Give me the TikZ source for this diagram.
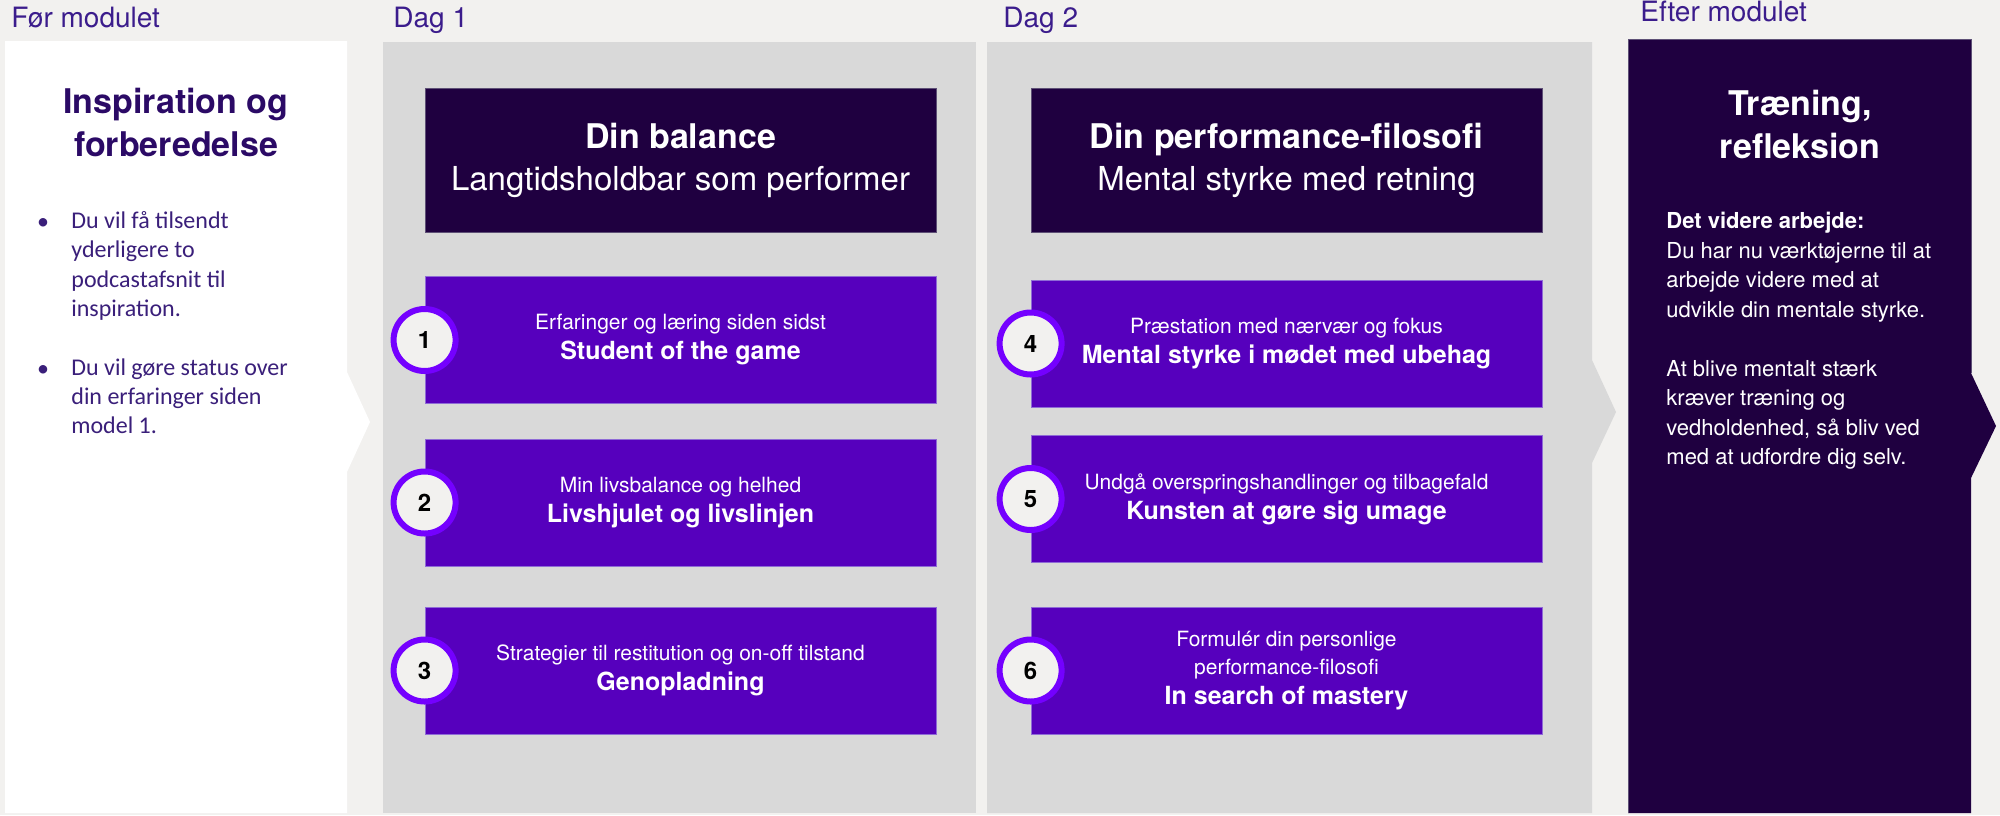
\documentclass[tikz,border=0pt]{standalone}
\usepackage{fontspec}
\setmainfont{TeX Gyre Heros}
\newfontfamily\bulletfont{Carlito}
\definecolor{paper}{HTML}{F2F1EF}
\definecolor{panelgray}{HTML}{D9D9D9}
\definecolor{nightviolet}{HTML}{1F0040}
\definecolor{nightedge}{HTML}{5E5076}
\definecolor{deepviolet}{HTML}{5600BD}
\definecolor{violetedge}{HTML}{8F6BD6}
\definecolor{ringviolet}{HTML}{7400FF}
\definecolor{labelink}{HTML}{3B1C8C}
\definecolor{titleink}{HTML}{2B0A66}
\definecolor{bulletink}{HTML}{3A1F7A}
\newcommand{\headlines}[2]{{\fontsize{17}{21}\selectfont\bfseries #1}\\{#2}}
\newcommand{\topiclines}[2]{#1\\{\fontsize{12.5}{15}\selectfont\bfseries #2}}

\begin{document}
\begin{tikzpicture}[x=0.5pt,y=-0.5pt,
  headbox/.style={fill=nightviolet,draw=nightedge,line width=0.4pt,inner sep=0pt,
    minimum width=255.5pt,minimum height=72pt,text=white,align=center,
    font=\fontsize{16.5}{21}\selectfont},
  topicbox/.style={fill=deepviolet,draw=violetedge,line width=0.4pt,inner sep=0pt,
    minimum width=255.5pt,minimum height=63.5pt,text=white,align=center,
    font=\fontsize{10.5}{15}\selectfont},
  stepdot/.style={circle,fill=paper,draw=ringviolet,line width=3pt,inner sep=0pt,
    minimum size=31pt,font=\fontsize{12}{12}\selectfont\bfseries},
  colhead/.style={anchor=base west,text=labelink,inner sep=0pt,
    font=\fontsize{14}{16}\selectfont},
  coltitle/.style={anchor=north,inner sep=0pt,align=center,
    font=\fontsize{17}{21.5}\selectfont\bfseries},
  bullettext/.style={anchor=north west,inner sep=0pt,align=left,text=bulletink,
    font=\bulletfont\fontsize{12}{14.7}\selectfont},
  bulletdot/.style={anchor=base,inner sep=0pt,text=bulletink,
    font=\bulletfont\fontsize{12}{14.7}\selectfont}]
\useasboundingbox (0,0) rectangle (2000,815);
\fill[paper] (0,0) rectangle (2000,815);
% Drawing panels
% Panel 1: before the module, white, pointing right
\fill[white] (5,41) -- (347,41) -- (347,372) -- (370,422) -- (347,472) -- (347,813) -- (5,813) -- cycle;
% Panel 2: day 1
\fill[panelgray] (383,42) rectangle (976,813);
% Panel 3: day 2, pointing right
\fill[panelgray] (987,42) -- (1592,42) -- (1592,360) -- (1616,412) -- (1592,463) -- (1592,813) -- (987,813) -- cycle;
% Panel 4: after the module, dark, pointing right
\fill[nightviolet] (1628,39) -- (1971,39) -- (1971,373) -- (1996,426) -- (1971,478) -- (1971,813) -- (1628,813) -- cycle;
\draw[nightedge,line width=0.4pt] (1628,813) -- (1628,39) -- (1971,39) -- (1971,373);
% Done with panels; drawing column labels
\node[colhead] (before) at (11,27) {Før modulet};
\node[colhead] (day1) at (393,27) {Dag 1};
\node[colhead] (day2) at (1003,27) {Dag 2};
\node[colhead] (after) at (1640,21) {Efter modulet};
% Column 1: preparation
\node[coltitle,text=titleink] (preptitle) at (176,88) {Inspiration og\\forberedelse};
\node[bulletdot] (dot1) at (43,229) {\textbullet};
\node[bullettext] (prep1) at (71,211) {Du vil få tilsendt\\yderligere to\\podcastafsnit til\\inspiration.};
\node[bulletdot] (dot2) at (43,376) {\textbullet};
\node[bullettext] (prep2) at (71,358) {Du vil gøre status over\\din erfaringer siden\\model 1.};
% Column 2: day 1
\node[headbox] (balance) at (680.5,160) {\headlines{Din balance}{Langtidsholdbar som performer}};
\node[topicbox] (t1) at (680.5,340) {\topiclines{Erfaringer og læring siden sidst}{Student of the game}};
\node[topicbox] (t2) at (680.5,502.5) {\topiclines{Min livsbalance og helhed}{Livshjulet og livslinjen}};
\node[topicbox] (t3) at (680.5,670.5) {\topiclines{Strategier til restitution og on-off tilstand}{Genopladning}};
\node[stepdot] (n1) at (t1.west) {1};
\node[stepdot] (n2) at (t2.west) {2};
\node[stepdot] (n3) at (t3.west) {3};
% Column 3: day 2
\node[headbox] (philosophy) at (1286.5,160) {\headlines{Din performance-filosofi}{Mental styrke med retning}};
\node[topicbox] (t4) at (1286.5,343.5) {\topiclines{Præstation med nærvær og fokus}{Mental styrke i mødet med ubehag}};
\node[topicbox] (t5) at (1286.5,499) {\topiclines{Undgå overspringshandlinger og tilbagefald}{Kunsten at gøre sig umage}};
\node[topicbox] (t6) at (1286.5,670.5) {Formulér din personlige\\[-1pt]performance-filosofi\\{\fontsize{12.5}{15}\selectfont\bfseries In search of mastery}};
\node[stepdot] (n4) at (t4.west) {4};
\node[stepdot] (n5) at (t5.west) {5};
\node[stepdot] (n6) at (t6.west) {6};
% Column 4: after the module
\node[coltitle,text=white] (traintitle) at (1800,90) {Træning,\\refleksion};
\node[anchor=north west,inner sep=0pt,align=left,text=white,
  font=\fontsize{11}{14.75}\selectfont] (further) at (1666,212)
  {\textbf{Det videre arbejde:}\\Du har nu værktøjerne til at\\arbejde videre med at\\udvikle din mentale styrke.\\[14.75pt]At blive mentalt stærk\\kræver træning og\\vedholdenhed, så bliv ved\\med at udfordre dig selv.};
% Done with columns
\end{tikzpicture}
\end{document}
